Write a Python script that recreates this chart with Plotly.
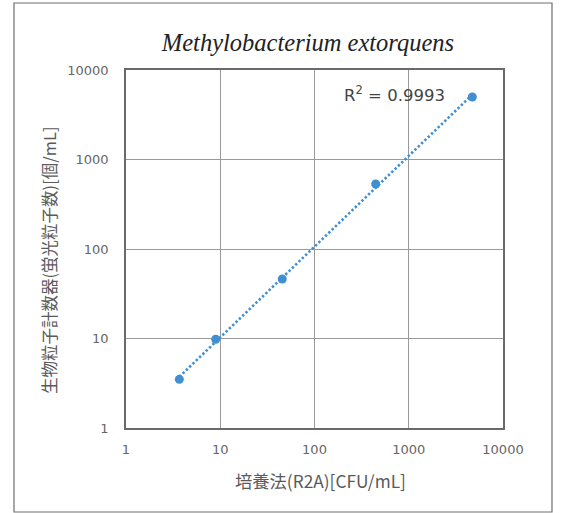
import numpy as np
import plotly.graph_objects as go

# ---- data ----
title_text = "<i>Methylobacterium extorquens</i>"
x_title = "培養法(R2A)[CFU/mL]"
y_title = "生物粒子計数器(蛍光粒子数)[個/mL]"
culture_cfu = [3.68, 8.95, 45.5, 446, 4725]
counter_counts = [3.50, 9.8, 46.2, 532, 4993]
r2_label = "R<sup>2</sup> = 0.9993"
tick_vals = [1, 10, 100, 1000, 10000]
tick_text = ["1", "10", "100", "1000", "10000"]

# power-law trendline (linear fit in log-log space)
lx = np.log10(culture_cfu)
ly = np.log10(counter_counts)
slope, intercept = np.polyfit(lx, ly, 1)
fit_x = np.logspace(lx.min(), lx.max(), 50)
fit_y = 10 ** (intercept + slope * np.log10(fit_x))

W, H = 561, 513
L, R, T, B = 126, 58, 70, 85
pw, ph = W - L - R, H - T - B

def px(x):
    return (x - L) / pw

def py(y):
    return (H - B - y) / ph

blue = "#3f8fd2"
txt = "#5a5a5a"
font_jp = "Noto Sans CJK JP"
font_num = "DejaVu Sans"

fig = go.Figure()
fig.add_trace(go.Scatter(
    x=fit_x, y=fit_y, mode="lines",
    line=dict(color=blue, width=2.6, dash="2.4px,2.2px"),
    hoverinfo="skip", showlegend=False))
fig.add_trace(go.Scatter(
    x=culture_cfu, y=counter_counts, mode="markers",
    marker=dict(color=blue, size=9, line=dict(width=0)),
    showlegend=False))

axis_common = dict(
    type="log", range=[0, 4], tickvals=tick_vals, ticktext=tick_text,
    showgrid=True, gridcolor="#9a9a9a", gridwidth=1,
    showline=True, linecolor="#6a6a6a", linewidth=1.5, mirror=True,
    ticks="", zeroline=False,
    tickfont=dict(family=font_num, size=13, color="#666666"),
)
fig.update_xaxes(**axis_common, ticklabelstandoff=9)
fig.update_yaxes(**axis_common, ticklabelstandoff=13)

fig.update_layout(
    width=W, height=H,
    margin=dict(l=L, r=R, t=T, b=B),
    paper_bgcolor="white", plot_bgcolor="white",
    title=dict(text=title_text, x=308 / W, xanchor="center", xref="container",
               y=1 - 42 / H, yanchor="middle", yref="container",
               font=dict(family="Liberation Serif", size=24.5, color="#222222")),
    annotations=[
        dict(text=r2_label, x=px(394), y=py(94), xref="paper", yref="paper",
             showarrow=False, xanchor="center", yanchor="middle",
             font=dict(family=font_num, size=16.5, color="#444444")),
        dict(text=x_title, x=px(320), y=py(480), xref="paper", yref="paper",
             showarrow=False, xanchor="center", yanchor="middle",
             font=dict(family=font_jp, size=17.3, color=txt)),
        dict(text=y_title, x=px(49), y=py(260), xref="paper", yref="paper",
             showarrow=False, xanchor="center", yanchor="middle", textangle=-90,
             font=dict(family=font_jp, size=16.5, color=txt)),
    ],
    shapes=[
        dict(type="rect", xref="paper", yref="paper",
             x0=px(14), x1=px(552), y0=py(512), y1=py(3),
             line=dict(color="#6e6e6e", width=1.2), layer="below"),
    ],
)

fig.write_html("out.html", config={"displayModeBar": False},
               post_script="document.body.style.margin='0px';")
